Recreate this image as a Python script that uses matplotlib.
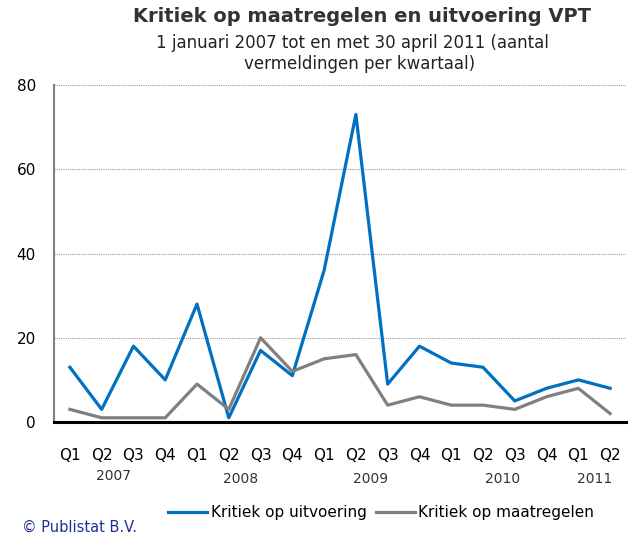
import matplotlib.pyplot as plt

quarters = ["Q1", "Q2", "Q3", "Q4"] * 4 + ["Q1", "Q2"]
years = ["2007", "2008", "2009", "2010", "2011"]
year_pos = [1.38, 5.38, 9.47, 13.6, 16.5]
uitvoering = [13, 3, 18, 10, 28, 1, 17, 11, 36, 73, 9, 18, 14, 13, 5, 8, 10, 8]
maatregelen = [3, 1, 1, 1, 9, 3, 20, 12, 15, 16, 4, 6, 4, 4, 3, 6, 8, 2]

blue = '#0070C0'
grey = '#808080'

fig = plt.figure(figsize=(6.29, 5.35), dpi=100)
ax = fig.add_axes([54/629, 1 - 422/535, 572/629, 337/535])

x = range(len(quarters))
ax.plot(x, uitvoering, color=blue, lw=2.3, label='Kritiek op uitvoering')
ax.plot(x, maatregelen, color=grey, lw=2.3, label='Kritiek op maatregelen')

ax.set_xlim(-0.5, len(quarters) - 0.5)
ax.set_ylim(0, 80)
ax.set_yticks([0, 20, 40, 60, 80])
ax.set_xticks(list(x))
ax.set_xticklabels(quarters, fontsize=11)
ax.tick_params(axis='both', length=0)
ax.tick_params(axis='x', pad=19)
ax.tick_params(axis='y', labelsize=11, pad=13)
ax.grid(axis='y', linestyle=(0, (1, 1)), color='#999999', lw=0.8)
ax.set_axisbelow(True)

for s in ['top', 'right']:
    ax.spines[s].set_visible(False)
ax.spines['left'].set_color(grey)
ax.spines['left'].set_linewidth(1.5)
ax.spines['bottom'].set_color('black')
ax.spines['bottom'].set_linewidth(2.2)

for i, (yr, p) in enumerate(zip(years, year_pos)):
    yy = -0.16 if i < 1 else -0.17
    ax.text(p, yy, yr, transform=ax.get_xaxis_transform(), ha='center',
            va='center', fontsize=10, color='#333333')

fig.text(362/629, 1 - 17/535, 'Kritiek op maatregelen en uitvoering VPT',
         ha='center', va='center', fontsize=14, fontweight='bold', color='#333333')
fig.text(352/629, 1 - 43/535, '1 januari 2007 tot en met 30 april 2011 (aantal',
         ha='center', va='center', fontsize=12, color='#222222')
fig.text(360/629, 1 - 64/535, 'vermeldingen per kwartaal)',
         ha='center', va='center', fontsize=12, color='#222222')

leg = fig.legend(loc='center', bbox_to_anchor=(381/629, 1 - 513/535), ncol=2,
                 frameon=False, fontsize=11, handlelength=2.6, handletextpad=0.2,
                 columnspacing=0.6)
fig.text(22/629, 1 - 527/535, '\u00a9 Publistat B.V.', ha='left', va='center',
         fontsize=10.5, color='#1F2F99')

fig.savefig('out.png', dpi=100)
